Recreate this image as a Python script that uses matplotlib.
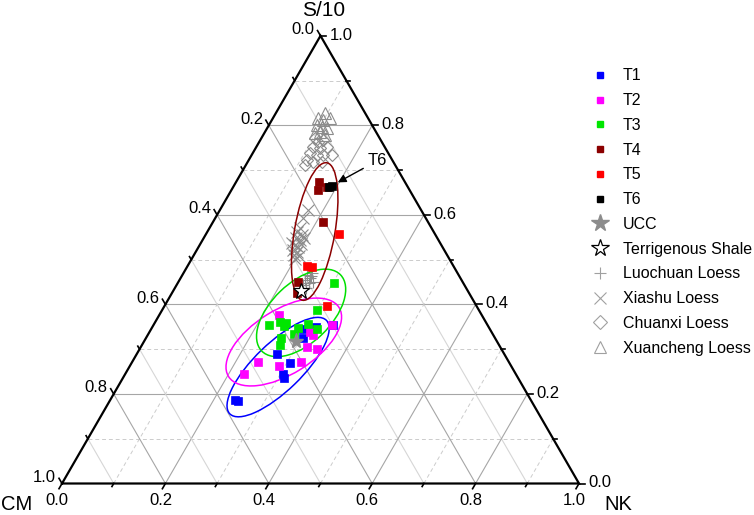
import numpy as np
import matplotlib
matplotlib.use("Agg")
import matplotlib.pyplot as plt
from matplotlib.lines import Line2D
from matplotlib.patches import Ellipse

plt.rcParams["font.family"] = ["Liberation Sans", "DejaVu Sans"]

# compositions as (CM, NK, S/10) fractions
t1 = [(0.572, 0.241, 0.187), (0.567, 0.248, 0.184), (0.439, 0.271, 0.289), (0.424, 0.306, 0.269),
      (0.450, 0.305, 0.245), (0.453, 0.312, 0.236), (0.371, 0.304, 0.325), (0.361, 0.294, 0.345),
      (0.334, 0.317, 0.350), (0.299, 0.347, 0.354)]
t2 = [(0.526, 0.230, 0.245), (0.485, 0.243, 0.271), (0.449, 0.289, 0.263), (0.402, 0.327, 0.271),
      (0.357, 0.343, 0.300), (0.374, 0.321, 0.305), (0.392, 0.232, 0.376), (0.351, 0.311, 0.338),
      (0.349, 0.320, 0.332), (0.301, 0.345, 0.354)]
t3 = [(0.250, 0.302, 0.448), (0.313, 0.299, 0.388), (0.423, 0.223, 0.354), (0.398, 0.241, 0.361),
      (0.388, 0.254, 0.359), (0.370, 0.283, 0.347), (0.346, 0.298, 0.356), (0.334, 0.321, 0.345),
      (0.384, 0.282, 0.334), (0.414, 0.261, 0.325), (0.424, 0.267, 0.309), (0.395, 0.254, 0.352)]
t4 = [(0.166, 0.160, 0.673), (0.177, 0.167, 0.656), (0.156, 0.182, 0.662), (0.203, 0.213, 0.584),
      (0.318, 0.232, 0.450), (0.333, 0.242, 0.426)]
t5 = [(0.186, 0.257, 0.557), (0.283, 0.231, 0.486), (0.275, 0.242, 0.484), (0.289, 0.314, 0.397)]
t6 = [(0.152, 0.185, 0.662), (0.146, 0.190, 0.665)]
ucc = [(0.388, 0.294, 0.318)]
shale = [(0.323, 0.247, 0.430)]
luochuan = [(0.293, 0.241, 0.466), (0.291, 0.250, 0.459), (0.281, 0.249, 0.470), (0.303, 0.243, 0.455),
            (0.298, 0.254, 0.448), (0.289, 0.261, 0.450), (0.312, 0.245, 0.443), (0.310, 0.254, 0.437),
            (0.287, 0.250, 0.464)]
xiashu = [(0.219, 0.170, 0.611), (0.237, 0.170, 0.593), (0.254, 0.175, 0.571), (0.258, 0.187, 0.555),
          (0.273, 0.178, 0.548), (0.268, 0.188, 0.544), (0.283, 0.184, 0.533), (0.279, 0.192, 0.528),
          (0.292, 0.186, 0.522), (0.287, 0.196, 0.517), (0.296, 0.194, 0.510), (0.288, 0.204, 0.508),
          (0.299, 0.200, 0.502), (0.270, 0.195, 0.535), (0.258, 0.194, 0.548), (0.287, 0.176, 0.537),
          (0.265, 0.174, 0.562)]
chuanxi = [(0.125, 0.104, 0.772), (0.123, 0.114, 0.763), (0.112, 0.121, 0.767), (0.139, 0.110, 0.752),
           (0.126, 0.124, 0.749), (0.112, 0.137, 0.752), (0.151, 0.111, 0.738), (0.140, 0.126, 0.734),
           (0.128, 0.138, 0.734), (0.111, 0.155, 0.734), (0.165, 0.113, 0.723), (0.156, 0.126, 0.718),
           (0.138, 0.144, 0.718), (0.174, 0.114, 0.711)]
xuancheng = [(0.097, 0.087, 0.816), (0.089, 0.099, 0.812), (0.073, 0.110, 0.816), (0.106, 0.093, 0.801),
             (0.099, 0.105, 0.796), (0.090, 0.116, 0.794), (0.109, 0.106, 0.785), (0.119, 0.098, 0.783),
             (0.102, 0.120, 0.778), (0.078, 0.095, 0.828)]

# confidence ellipses for T1, T2, T3, T4: centre (CM, NK, S), semi-axes, angle
ell_centres = [(0.452, 0.288, 0.260), (0.413, 0.271, 0.316), (0.347, 0.272, 0.381), (0.225, 0.203, 0.551)]
ell_axes = [(0.130, 0.046), (0.126, 0.062), (0.106, 0.058), (0.135, 0.039)]
ell_angles = [44, 32, 44, 80]
ell_colors = ["#0000ff", "#ff00ff", "#00e000", "#8b0000"]

tick_values = [0.0, 0.2, 0.4, 0.6, 0.8, 1.0]

SQ3 = np.sqrt(3) / 2
PX = 1 / 517  # one pixel in data units


def to_xy(points):
    p = np.asarray(points, dtype=float)
    p = p / p.sum(axis=1, keepdims=True)
    nk, s = p[:, 1], p[:, 2]
    return nk + s / 2, s * SQ3


fig = plt.figure(figsize=(7.54, 5.15), dpi=100)
ax = fig.add_axes([0, 0, 1, 1])
ax.set_xlim(-62 * PX, 692 * PX)
ax.set_ylim(-31.5 * PX, 483.5 * PX)
ax.axis("off")

# grid
for k in range(1, 10):
    v = k / 10
    families = {
        "S": [(1 - v, 0, v), (0, 1 - v, v)],
        "NK": [(1 - v, v, 0), (0, v, 1 - v)],
        "CM": [(v, 1 - v, 0), (v, 0, 1 - v)],
    }
    for name, pts in families.items():
        x, y = to_xy(pts)
        if k % 2 == 0:
            ax.plot(x, y, color="#a6a6a6", lw=0.8, zorder=1)
        elif name == "CM":
            ax.plot(x, y, color="#d6d6d6", lw=0.8, zorder=1)
        else:
            ax.plot(x, y, color="#cccccc", lw=0.7, ls=(0, (4, 3)), zorder=1)

# frame
x, y = to_xy([(1, 0, 0), (0, 1, 0), (0, 0, 1), (1, 0, 0)])
ax.plot(x, y, color="black", lw=1.6, zorder=5, solid_joinstyle="miter")

# ticks
for k in range(11):
    v = k / 10
    ln = (6 if k % 2 == 0 else 3.5) * PX
    for pt, d in [((1 - v, v, 0), (-0.5, -SQ3)), ((v, 0, 1 - v), (-0.5, SQ3)), ((0, 1 - v, v), (1, 0))]:
        x, y = to_xy([pt])
        ax.plot([x[0], x[0] + d[0] * ln], [y[0], y[0] + d[1] * ln], color="black", lw=1.2, zorder=5)

for v in tick_values:
    lab = f"{v:.1f}"
    x, y = to_xy([(1 - v, v, 0)])
    ax.annotate(lab, (x[0], y[0]), xytext=(-3.5, -12.3), textcoords="offset points",
                ha="center", va="center", fontsize=12)
    x, y = to_xy([(v, 0, 1 - v)])
    ax.annotate(lab, (x[0], y[0]), xytext=(-12.5, 4.3), textcoords="offset points",
                ha="center", va="center", fontsize=12)
    x, y = to_xy([(0, 1 - v, v)])
    ax.annotate(lab, (x[0], y[0]), xytext=(6.8, 0.5), textcoords="offset points",
                ha="left", va="center", fontsize=12)

x, y = to_xy([(0, 0, 1)])
ax.annotate("S/10", (x[0], y[0]), xytext=(2, 18), textcoords="offset points",
            ha="center", va="center", fontsize=15)
x, y = to_xy([(1, 0, 0)])
ax.annotate("CM", (x[0], y[0]), xytext=(-33, -15), textcoords="offset points",
            ha="center", va="center", fontsize=14.5)
x, y = to_xy([(0, 1, 0)])
ax.annotate("NK", (x[0], y[0]), xytext=(28, -15), textcoords="offset points",
            ha="center", va="center", fontsize=14.5)

# ellipses
for c, (a, b), ang, col in zip(ell_centres, ell_axes, ell_angles, ell_colors):
    x, y = to_xy([c])
    ax.add_patch(Ellipse((x[0], y[0]), 2 * a, 2 * b, angle=ang, fill=False,
                         edgecolor=col, lw=1.1, zorder=3))

gray = "#8c8c8c"
open_styles = [
    (xuancheng, "^", 8, "Xuancheng Loess"),
    (chuanxi, "D", 6.5, "Chuanxi Loess"),
    (xiashu, "x", 8, "Xiashu Loess"),
    (luochuan, "+", 8, "Luochuan Loess"),
]
for pts, m, ms, _ in open_styles:
    x, y = to_xy(pts)
    ax.plot(x, y, ls="none", marker=m, ms=ms, mfc="none", mec=gray, mew=0.8, zorder=2)

sq_series = [
    (t1, "#0000ff", "T1"),
    (t2, "#ff00ff", "T2"),
    (t3, "#00e600", "T3"),
    (t4, "#8b0000", "T4"),
    (t5, "#ff0000", "T5"),
    (t6, "#000000", "T6"),
]
for pts, col, _ in sq_series:
    x, y = to_xy(pts)
    ax.plot(x, y, ls="none", marker="s", ms=5.8, mfc=col, mec=col, mew=0.5, zorder=4)

x, y = to_xy(ucc)
ax.plot(x, y, ls="none", marker="*", ms=11, mfc=gray, mec=gray, zorder=6)
x, y = to_xy(shale)
ax.plot(x, y, ls="none", marker="*", ms=12, mfc="white", mec="black", mew=0.9, zorder=6)

x, y = to_xy(t6)
ax.annotate("T6", (x.mean(), y.mean()), xytext=(33.5, 18.4), textcoords="offset points",
            ha="center", va="center", fontsize=12,
            arrowprops=dict(arrowstyle="-|>", color="black", lw=1.0, mutation_scale=12,
                            shrinkA=1, shrinkB=6))

# legend
handles = [Line2D([], [], ls="none", marker="s", ms=4.5, mfc=col, mec=col) for _, col, _ in sq_series]
labels = [lab for _, _, lab in sq_series]
handles.append(Line2D([], [], ls="none", marker="*", ms=13, mfc=gray, mec=gray))
labels.append("UCC")
handles.append(Line2D([], [], ls="none", marker="*", ms=13, mfc="white", mec="black", mew=0.9))
labels.append("Terrigenous Shale")
for _, m, ms, lab in reversed(open_styles):
    handles.append(Line2D([], [], ls="none", marker=m, ms=ms + 1, mfc="none", mec="#a0a0a0", mew=0.8))
    labels.append(lab)

fs_leg = 11.5
fig.legend(handles, labels, loc="upper left", bbox_to_anchor=(592 / 754, 1 - 68.5 / 515),
           frameon=False, fontsize=fs_leg, handlelength=16 / (fs_leg * 100 / 72),
           handletextpad=15 / (fs_leg * 100 / 72),
           labelspacing=0.61, borderpad=0, borderaxespad=0)

fig.savefig("out.png", dpi=100)
